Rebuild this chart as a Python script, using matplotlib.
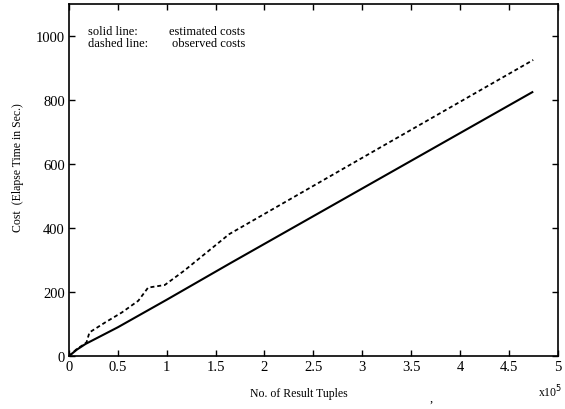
import matplotlib
matplotlib.use('Agg')
import matplotlib.pyplot as plt

# values (x in units of 1e5 tuples, cost in seconds)
est_x = [0, 0.08, 0.17, 0.5, 1.0, 1.65, 4.75]
est_y = [0, 20, 38, 90, 176, 290, 826]

obs_x = [0, 0.08, 0.13, 0.18, 0.21, 0.37, 0.54, 0.71, 0.81, 0.98, 1.18, 1.64, 3.17, 4.75]
obs_y = [0, 22, 32, 43, 74, 105, 136, 173, 214, 222, 267, 381, 649, 925]

x_ticks = [0, 0.5, 1, 1.5, 2, 2.5, 3, 3.5, 4, 4.5, 5]
x_tick_labels = ['0', '0.5', '1', '1.5', '2', '2.5', '3', '3.5', '4', '4.5', '5']
y_ticks = [0, 200, 400, 600, 800, 1000]

plt.rcParams['font.family'] = ['Liberation Serif', 'DejaVu Serif']

fig = plt.figure(figsize=(5.65, 4.10), dpi=100)
ax = fig.add_axes([0.122, 0.129, 0.865, 0.859])

ax.plot(est_x, est_y, color='black', lw=1.5, solid_capstyle='butt')
ax.plot(obs_x, obs_y, color='black', lw=1.3, linestyle=(0, (2.2, 1.6)))

ax.set_xlim(0, 5)
ax.set_ylim(0, 1100)
ax.set_xticks(x_ticks)
ax.set_xticklabels(x_tick_labels)
ax.set_yticks(y_ticks)
ax.tick_params(direction='in', top=True, right=True, length=4, width=1,
               labelsize=10.5, pad=3)
for s in ax.spines.values():
    s.set_linewidth(1.2)

# axis titles placed as figure text, like the original layout
fig.text(299 / 565, 13 / 410, 'No. of Result Tuples', fontsize=8.5,
         ha='center', va='baseline')
fig.text(18 / 565, 1 - 168 / 410, 'Cost  (Elapse Time in Sec.)', fontsize=8.5,
         rotation=90, ha='center', va='center')
fig.text(538 / 565, 13 / 410, 'x10$^5$', fontsize=8.5, va='baseline')
fig.text(429 / 565, 8 / 410, ',', fontsize=9, va='baseline')

ax.text(0.039, 0.916, 'solid line:', transform=ax.transAxes, fontsize=9, va='baseline')
ax.text(0.039, 0.880, 'dashed line:', transform=ax.transAxes, fontsize=9, va='baseline')
ax.text(0.204, 0.916, 'estimated costs', transform=ax.transAxes, fontsize=9, va='baseline')
ax.text(0.210, 0.880, 'observed costs', transform=ax.transAxes, fontsize=9, va='baseline')

fig.savefig('out.png', dpi=100)
